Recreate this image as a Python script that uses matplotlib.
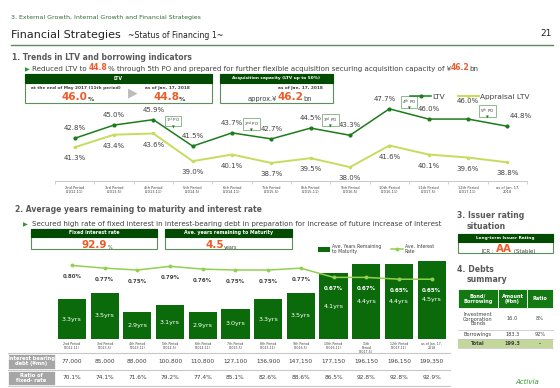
import numpy as np
import matplotlib.pyplot as plt
from matplotlib.patches import Rectangle
from matplotlib.transforms import blended_transform_factory

plt.rcParams['font.family'] = ['DejaVu Sans']

# データ
periods = ['2nd Period\n(2012.11)', '3rd Period\n(2013.5)', '4th Period\n(2013.11)', '5th Period\n(2014.5)',
           '6th Period\n(2014.11)', '7th Period\n(2015.5)', '8th Period\n(2015.11)', '9th Period\n(2016.5)',
           '10th Period\n(2016.11)', '11th Period\n(2017.5)', '12th Period\n(2017.11)', 'as of Jan. 17,\n2018']
bar_periods = periods[:9] + ['11th\nPeriod\n(2017.5)'] + periods[10:]
ltv = [42.8, 45.0, 45.9, 41.5, 43.7, 42.7, 44.5, 43.3, 47.7, 46.0, 46.0, 44.8]
appraisal_ltv = [41.3, 43.4, 43.6, 39.0, 40.1, 38.7, 39.5, 38.0, 41.6, 40.1, 39.6, 38.8]
po_labels = ['1$^{\\rm st}$ PO', '2$^{\\rm nd}$ PO', '3$^{\\rm rd}$ PO', '4$^{\\rm th}$ PO', '5$^{\\rm th}$ PO']
po_after = [2, 4, 6, 8, 10]

years = [3.3, 3.5, 2.9, 3.1, 2.9, 3.0, 3.3, 3.5, 4.1, 4.4, 4.4, 4.5]
rate = [0.80, 0.77, 0.75, 0.79, 0.76, 0.75, 0.75, 0.77, 0.67, 0.67, 0.65, 0.65]
debt = ['77,000', '85,000', '88,000', '100,800', '110,800', '127,100', '136,900', '147,150',
        '177,150', '196,150', '196,150', '199,350']
fixed_ratio = ['70.1%', '74.1%', '71.6%', '79.2%', '77.4%', '85.1%', '82.6%', '88.6%',
               '86.5%', '92.8%', '92.8%', '92.9%']

debt_items = ['Investment\nCorporation\nBonds', 'Borrowings', 'Total']
debt_amount = ['16.0', '183.3', '199.3']
debt_ratio = ['8%', '92%', '-']

DARK = '#034a03'
BORDER = '#5b8f5b'
ORANGE = '#f05a28'
GREY = '#595959'
TXT = '#404040'
LTV_C = '#1c7c1c'
APP_C = '#c6dc5c'
BAR_C = '#0b6b0b'
RATE_C = '#92d050'

W, H = 560, 388
fig = plt.figure(figsize=(W / 100, H / 100), dpi=100)
bg = fig.add_axes([0, 0, 1, 1])
bg.set_xlim(0, W)
bg.set_ylim(H, 0)
bg.axis('off')


def px_axes(x0, y0, x1, y1):
    ax = fig.add_axes([x0 / W, 1 - y1 / H, (x1 - x0) / W, (y1 - y0) / H])
    ax.patch.set_alpha(0)
    return ax


def chain(x, y, parts):
    # несколько кусков текста подряд, разными цветами
    prev = None
    for s, c, fs, fw in parts:
        if prev is None:
            prev = bg.text(x, y, s, color=c, fontsize=fs, fontweight=fw, ha='left', va='bottom')
        else:
            prev = bg.annotate(s, xy=(1, 0), xycoords=prev, color=c, fontsize=fs,
                               fontweight=fw, ha='left', va='bottom')
    return prev


def header_box(x0, y0, x1, y1, hh, title, fs=3.4):
    bg.add_patch(Rectangle((x0, y0), x1 - x0, y1 - y0, fc='white', ec=BORDER, lw=0.8))
    bg.add_patch(Rectangle((x0, y0), x1 - x0, hh, fc=DARK, ec=DARK, lw=0.8))
    bg.text((x0 + x1) / 2, y0 + hh / 2, title, color='white', fontsize=fs,
            fontweight='bold', ha='center', va='center')


# заголовок слайда
bg.text(11, 18, '3. External Growth, Internal Growth and Financial Strategies', fontsize=4.5,
        color='#2e6b2e', va='center')
chain(11, 39.5, [('Financial Strategies  ', '#222222', 8, 'normal'),
                 ('~Status of Financing 1~', '#222222', 5.6, 'normal')])
bg.text(552, 34, '21', fontsize=6.5, color='#222222', ha='right', va='center')
bg.plot([11, 553], [45, 45], color='#5f8a5f', lw=1.0)

# 1.
bg.text(12, 57, '1. Trends in LTV and borrowing indicators', fontsize=5.5, fontweight='bold',
        color=GREY, va='center')
chain(25, 72, [('▶ ', '#2e9a2e', 4.5, 'normal'),
               ('Reduced LTV to ', TXT, 5.1, 'normal'), ('44.8', ORANGE, 5.5, 'bold'),
               ('% through 5th PO and prepared for further flexible acquisition securing acquisition capacity of ¥',
                TXT, 5.1, 'normal'),
               ('46.2', ORANGE, 5.5, 'bold'), ('bn', TXT, 5.1, 'normal')])

header_box(25, 74, 212, 103, 8.5, 'LTV')
bg.text(76, 88, 'at the end of May 2017 (11th period)', fontsize=3.1, fontweight='bold',
        color=TXT, ha='center', va='center')
chain(62, 102, [('46.0', ORANGE, 7.5, 'bold'), ('%', TXT, 4.5, 'bold')])
bg.text(133, 93, '▶', fontsize=9, color='#bdbdbd', ha='center', va='center')
bg.text(167, 88, 'as of Jan. 17, 2018', fontsize=3.1, fontweight='bold', color=TXT,
        ha='center', va='center')
chain(153, 102, [('44.8', ORANGE, 7.5, 'bold'), ('%', TXT, 4.5, 'bold')])

header_box(220, 74, 333, 103, 8.5, 'Acquisition capacity (LTV up to 50%)', fs=3.1)
bg.text(300, 88, 'as of Jan. 17, 2018', fontsize=3.1, fontweight='bold', color=TXT,
        ha='center', va='center')
chain(248, 102, [('approx.¥', TXT, 4.8, 'normal'), ('46.2', ORANGE, 7.5, 'bold'),
                 ('bn', TXT, 4.8, 'normal')])

# график LTV
ax1 = px_axes(55, 95, 527, 181)
x = np.arange(len(periods))
ax1.plot(x, ltv, color=LTV_C, lw=1.1, marker='o', ms=2, label='LTV')
ax1.plot(x, appraisal_ltv, color=APP_C, lw=1.4, marker='o', ms=1.5, label='Appraisal LTV')
ax1.set_xlim(-0.5, 11.5)
ax1.set_ylim(35.7, 50.0)
for s in ['top', 'right', 'left']:
    ax1.spines[s].set_visible(False)
ax1.spines['bottom'].set_color('#bfbfbf')
ax1.spines['bottom'].set_linewidth(0.6)
ax1.set_yticks([])
ax1.set_xticks(x, periods, fontsize=2.6, color=TXT, linespacing=1.1)
ax1.set_xticks(np.arange(-0.5, 12), minor=True)
ax1.tick_params(axis='x', which='major', length=0, pad=3.5)
ax1.tick_params(axis='x', which='minor', length=2, color='#bfbfbf', width=0.5)

ltv_off = [(0, 10)] * 12
ltv_off[8] = (-5, 10)
ltv_off[10] = (0, 18)
ltv_off[11] = (13, 10)
for i, v in enumerate(ltv):
    dx, dy = ltv_off[i]
    ax1.annotate(f'{v:.1f}%', (i, v), xytext=(dx * 0.72, dy * 0.72), textcoords='offset points',
                 ha='center', va='center', fontsize=5, color=TXT)
for i, v in enumerate(appraisal_ltv):
    ax1.annotate(f'{v:.1f}%', (i, v), xytext=(0, -8), textcoords='offset points',
                 ha='center', va='center', fontsize=5, color=TXT)
for lab, i in zip(po_labels, po_after):
    xm = i + 0.5
    ym = (ltv[i] + ltv[i + 1]) / 2
    ax1.annotate(lab, (xm, ym), xytext=(0, 8.5), textcoords='offset points', ha='center',
                 va='center', fontsize=3, color=TXT,
                 bbox=dict(boxstyle='square,pad=0.25', fc='white', ec='#7fae7f', lw=0.6))
    ax1.annotate('▼', (xm, ym), xytext=(0, 3.8), textcoords='offset points', ha='center',
                 va='center', fontsize=2.6, color=LTV_C)
ax1.legend(loc='center', bbox_to_anchor=(470, 97), bbox_transform=bg.transData, ncol=2,
           frameon=False, fontsize=5.3, handlelength=2.8, columnspacing=1.8, handletextpad=0.2,
           labelcolor=TXT)

# 2.
bg.text(15, 210, '2. Average years remaining to maturity and interest rate', fontsize=5.5,
        fontweight='bold', color=GREY, va='center')
chain(23, 227, [('▶  ', '#2e9a2e', 4.5, 'normal'),
                ('Secured high rate of fixed interest in interest-bearing debt in preparation '
                 'for increase of future increase of interest', TXT, 5.1, 'normal')])
header_box(31, 229, 157, 249, 7.5, 'Fixed interest rate')
chain(82, 250, [('92.9', ORANGE, 7.5, 'bold'), ('%', TXT, 3.5, 'normal')])
header_box(165, 229, 292, 249, 7.5, 'Ave. years remaining to Maturity')
chain(205, 250, [('4.5', ORANGE, 7.5, 'bold'), ('years', TXT, 3.5, 'normal')])

# столбцы и ставка
ax2 = px_axes(55.6, 230, 448, 339)
bars = ax2.bar(x, years, width=0.86, color=BAR_C, label='Ave. Years Remaining\nto Maturity')
ax2.set_xlim(-0.5, 11.5)
ax2.set_ylim(2.05, 5.46)
ax3 = ax2.twinx()
ax3.patch.set_alpha(0)
line, = ax3.plot(x, rate, color=RATE_C, lw=1.1, marker='o', ms=1.8, label='Ave. Interest\nRate')
ax3.set_ylim(0, 1.185)
for a in (ax2, ax3):
    for s in a.spines.values():
        s.set_visible(False)
    a.set_yticks([])
ax2.set_xticks(x, bar_periods, fontsize=2.3, color=TXT, linespacing=1.0)
ax2.tick_params(axis='x', length=0, pad=2.5)

for i, v in enumerate(years):
    ax2.text(i, (2.05 + v) / 2, f'{v:.1f}yrs', ha='center', va='center', fontsize=4.6, color='white')
for i, v in enumerate(rate):
    col = 'white' if years[i] >= 4 else TXT
    ax3.annotate(f'{v:.2f}%', (i, v), xytext=(0, -8), textcoords='offset points', ha='center',
                 va='center', fontsize=4, color=col, fontweight='bold')
ax3.legend(handles=[bars, line], loc='center', bbox_to_anchor=(376, 249), bbox_transform=bg.transData,
           ncol=2, frameon=False, fontsize=3.3, handlelength=2.6, handleheight=1.2, columnspacing=2.2,
           handletextpad=0.4, labelcolor=TXT)

# таблица под столбцами
tr = blended_transform_factory(ax2.transData, bg.transData)
for yy in (353, 369.5, 385.5):
    bg.plot([8, 450], [yy, yy], color='#c8c8c8', lw=0.8)
bg.add_patch(Rectangle((8, 354), 47, 14.5, fc='#a6a6a6', ec='white', lw=0.5))
bg.add_patch(Rectangle((8, 370.5), 47, 14.5, fc='#a6a6a6', ec='white', lw=0.5))
bg.text(31.5, 361.3, 'Interest bearing\ndebt (¥mn)', fontsize=3.7, color='white', fontweight='bold',
        ha='center', va='center', linespacing=1.0)
bg.text(31.5, 377.8, 'Ratio of\nfixed- rate', fontsize=3.7, color='white', fontweight='bold',
        ha='center', va='center', linespacing=1.0)
for i in range(len(debt)):
    ax2.text(i, 361.3, debt[i], transform=tr, ha='center', va='center', fontsize=4.2, color=TXT)
    ax2.text(i, 377.8, fixed_ratio[i], transform=tr, ha='center', va='center', fontsize=4.2, color=TXT)

# 3. рейтинг
bg.text(457, 216, '3. Issuer rating', fontsize=5.6, fontweight='bold', color=GREY, va='center')
bg.text(467, 226.5, 'situation', fontsize=5.6, fontweight='bold', color=GREY, va='center')
header_box(458, 234, 553, 253, 7.5, 'Long-term Issuer Rating', fs=3.1)
chain(481, 253.5, [('JCR : ', TXT, 4, 'normal'), ('AA', ORANGE, 7.5, 'bold'),
                   (' (Stable)', TXT, 4, 'normal')])

# 4. долги
bg.text(457, 269, '4. Debts', fontsize=5.6, fontweight='bold', color=GREY, va='center')
bg.text(467, 280, 'summary', fontsize=5.6, fontweight='bold', color=GREY, va='center')
cols = [458, 498, 527, 553]
heads = ['Bond/\nBorrowing', 'Amount\n(¥bn)', 'Ratio']
for k in range(3):
    bg.add_patch(Rectangle((cols[k], 289), cols[k + 1] - cols[k], 19, fc='#137a13', ec='white', lw=0.6))
    bg.text((cols[k] + cols[k + 1]) / 2, 298.5, heads[k], fontsize=3.6, color='white',
            fontweight='bold', ha='center', va='center', linespacing=1.0)
rows = [308, 330, 338.5, 348]
bg.add_patch(Rectangle((458, rows[2]), 95, rows[3] - rows[2], fc='#c4d79b', ec='none'))
for r in range(3):
    yc = (rows[r] + rows[r + 1]) / 2
    fw = 'bold' if r == 2 else 'normal'
    vals = [debt_items[r], debt_amount[r], debt_ratio[r]]
    for k in range(3):
        bg.text((cols[k] + cols[k + 1]) / 2, yc, vals[k], fontsize=3.6, color=TXT, fontweight=fw,
                ha='center', va='center', linespacing=0.95)
    bg.plot([458, 553], [rows[r + 1], rows[r + 1]], color='#bfbfbf', lw=0.5)

bg.text(527, 382, 'Activia', fontsize=5, color='#3a9a3a', style='italic', ha='center', va='center')

fig.savefig('out.png', dpi=100)
